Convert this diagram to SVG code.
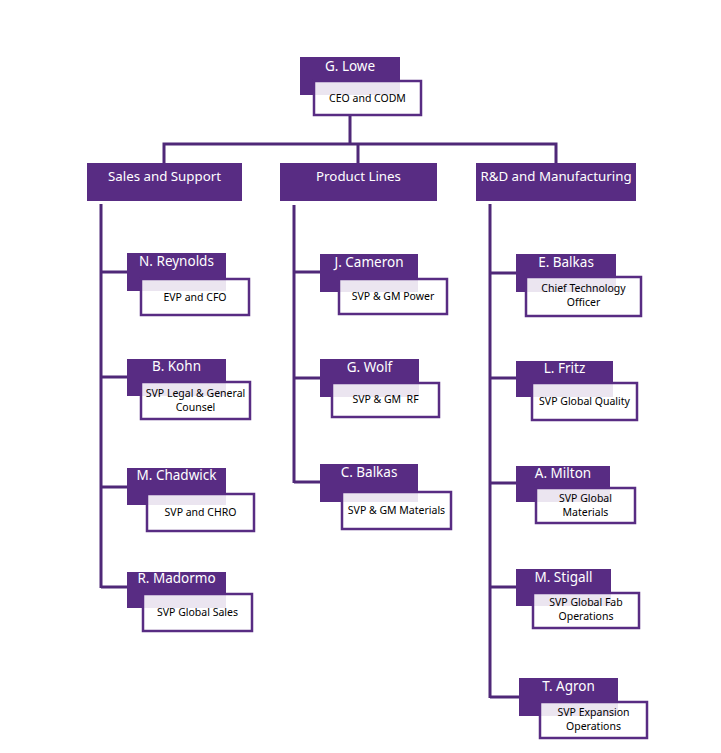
<svg xmlns="http://www.w3.org/2000/svg" width="721" height="753" viewBox="0 0 721 753">
<style>
.p{fill:#582c83}
.w{fill:#ffffff;fill-opacity:0.88;stroke:#582c83;stroke-width:2.5}
.n{font-family:"Noto Sans","Open Sans",sans-serif;font-size:13.5px;fill:#ffffff;text-anchor:middle}
.d{font-family:"Noto Sans","Open Sans",sans-serif;font-size:13.3px;fill:#ffffff;text-anchor:middle}
.t{font-family:"Noto Sans","Open Sans",sans-serif;font-size:10.5px;fill:#000000;text-anchor:middle;white-space:pre}
.c{fill:none;stroke:#4f2878;stroke-width:3;stroke-linejoin:miter}
</style>
<rect width="721" height="753" fill="#ffffff"/>
<g id="connectors">
<path class="c" d="M350 115V144M164 163V144H556V163M358 144V163"/>
<path class="c" d="M101 204V588M101 272H127M101 377H127M101 487H127M101 587H127"/>
<path class="c" d="M294 205V483M294 272H320M294 378H320M294 482H320"/>
<path class="c" d="M490 204V698M490 273H516M490 378H516M490 483H516M490 587H516M490 697H519"/>
</g>
<g id="ceo">
<rect class="p" x="300" y="57" width="100" height="38"/>
<text class="n" x="350" y="71">G. Lowe</text>
<rect class="w" x="314" y="81" width="107" height="34"/>
<text class="t" x="367.5" y="101.5">CEO and CODM</text>
</g>
<g id="sales">
<rect class="p" x="87" y="163" width="155" height="38"/>
<text class="d" x="164.5" y="181">Sales and Support</text>
</g>
<g id="product">
<rect class="p" x="280" y="163" width="157" height="38"/>
<text class="d" x="358.5" y="181">Product Lines</text>
</g>
<g id="rnd">
<rect class="p" x="476" y="163" width="160" height="38"/>
<text class="d" x="556" y="181">R&amp;D and Manufacturing</text>
</g>
<g id="reynolds">
<rect class="p" x="127" y="253" width="99" height="38"/>
<text class="n" x="176.5" y="266">N. Reynolds</text>
<rect class="w" x="141" y="279" width="108" height="36"/>
<text class="t" x="195" y="300.5">EVP and CFO</text>
</g>
<g id="kohn">
<rect class="p" x="127" y="359" width="99" height="37"/>
<text class="n" x="176.5" y="371">B. Kohn</text>
<rect class="w" x="141" y="382" width="109" height="37"/>
<text class="t" x="195.5" y="397">SVP Legal &amp; General</text>
<text class="t" x="195.5" y="411">Counsel</text>
</g>
<g id="chadwick">
<rect class="p" x="127" y="468" width="99" height="37"/>
<text class="n" x="176.5" y="480">M. Chadwick</text>
<rect class="w" x="147" y="494" width="107" height="37"/>
<text class="t" x="200.5" y="516">SVP and CHRO</text>
</g>
<g id="madormo">
<rect class="p" x="127" y="572" width="99" height="36"/>
<text class="n" x="176.5" y="583">R. Madormo</text>
<rect class="w" x="143" y="594" width="109" height="37"/>
<text class="t" x="197.5" y="616">SVP Global Sales</text>
</g>
<g id="cameron">
<rect class="p" x="320" y="254" width="98" height="38"/>
<text class="n" x="369" y="267">J. Cameron</text>
<rect class="w" x="339" y="279" width="108" height="35"/>
<text class="t" x="393" y="299.5">SVP &amp; GM Power</text>
</g>
<g id="wolf">
<rect class="p" x="320" y="359" width="99" height="38"/>
<text class="n" x="369.5" y="372">G. Wolf</text>
<rect class="w" x="332" y="383" width="107" height="34"/>
<text class="t" x="385.5" y="403">SVP &amp; GM  RF</text>
</g>
<g id="cbalkas">
<rect class="p" x="320" y="464" width="98" height="38"/>
<text class="n" x="369" y="477">C. Balkas</text>
<rect class="w" x="342" y="492" width="109" height="37"/>
<text class="t" x="396.5" y="514">SVP &amp; GM Materials</text>
</g>
<g id="ebalkas">
<rect class="p" x="516" y="254" width="100" height="38"/>
<text class="n" x="566" y="267">E. Balkas</text>
<rect class="w" x="526" y="277" width="115" height="39"/>
<text class="t" x="583.5" y="292">Chief Technology</text>
<text class="t" x="583.5" y="306">Officer</text>
</g>
<g id="fritz">
<rect class="p" x="516" y="361" width="97" height="36"/>
<text class="n" x="564.5" y="373">L. Fritz</text>
<rect class="w" x="532" y="383" width="105" height="37"/>
<text class="t" x="584.5" y="405">SVP Global Quality</text>
</g>
<g id="milton">
<rect class="p" x="516" y="466" width="94" height="36"/>
<text class="n" x="563" y="478">A. Milton</text>
<rect class="w" x="536" y="488" width="99" height="35"/>
<text class="t" x="585.5" y="502">SVP Global</text>
<text class="t" x="585.5" y="516">Materials</text>
</g>
<g id="stigall">
<rect class="p" x="516" y="569" width="95" height="37"/>
<text class="n" x="563.5" y="582">M. Stigall</text>
<rect class="w" x="533" y="593" width="106" height="35"/>
<text class="t" x="586" y="606">SVP Global Fab</text>
<text class="t" x="586" y="620">Operations</text>
</g>
<g id="agron">
<rect class="p" x="519" y="678" width="99" height="38"/>
<text class="n" x="568.5" y="691">T. Agron</text>
<rect class="w" x="540" y="702" width="107" height="36"/>
<text class="t" x="593.5" y="716">SVP Expansion</text>
<text class="t" x="593.5" y="730">Operations</text>
</g>
</svg>
